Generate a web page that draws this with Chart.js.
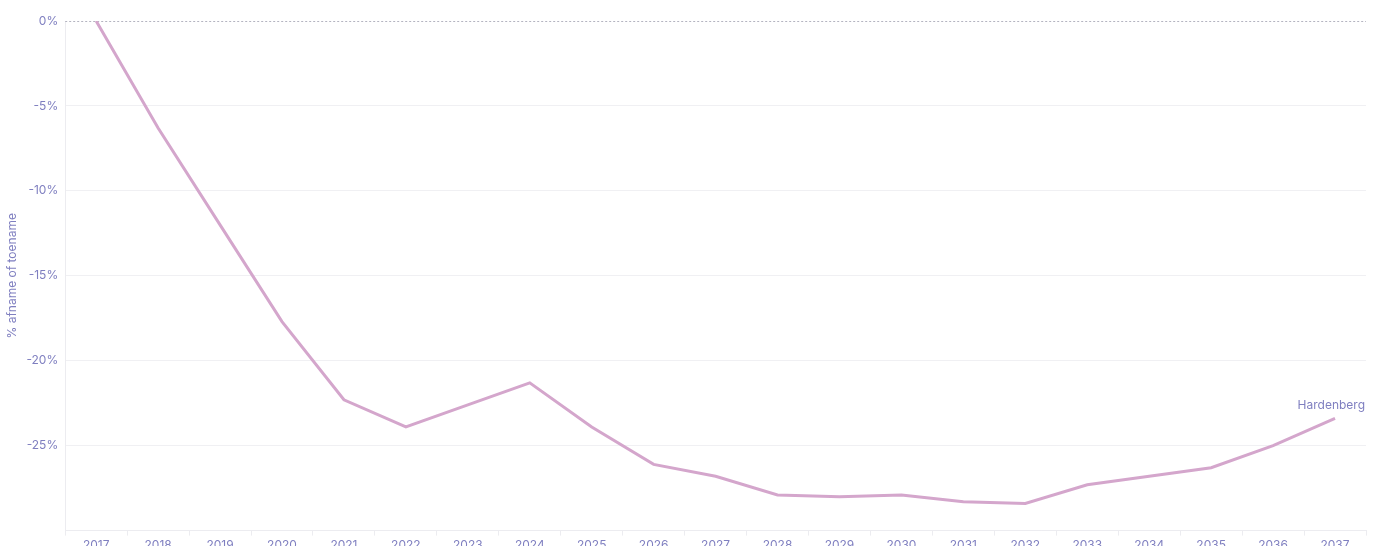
<!DOCTYPE html>
<html>
<head>
<meta charset="utf-8">
<script src="https://cdn.jsdelivr.net/npm/chart.js@4.4.1/dist/chart.umd.min.js"></script>
<style>
  html, body { margin: 0; padding: 0; background: #fff; overflow: hidden; }
  #wrap { position: relative; width: 1380px; height: 556px; }
</style>
</head>
<body>
<div id="wrap"><canvas id="chart"></canvas></div>
<script>
"use strict";

// ─── Data ──────────────────────────────────────────────────────────────────
const years = ["2017", "2018", "2019", "2020", "2021", "2022", "2023", "2024", "2025", "2026", "2027",
               "2028", "2029", "2030", "2031", "2032", "2033", "2034", "2035", "2036", "2037"];
const hardenberg = [0, -6.3, -12.0, -17.7, -22.3, -23.9, -22.6, -21.3, -23.9, -26.1, -26.8,
                    -27.9, -28.0, -27.9, -28.3, -28.4, -27.3, -26.8, -26.3, -25.0, -23.4];
const seriesName = "Hardenberg";
const yTitle     = "% afname of toename";

// ─── Styling ───────────────────────────────────────────────────────────────
const TEXT  = "#7f7fc0";
const LINE  = "#d4a6cc";
const GRID  = "#f0f0f3";

Chart.defaults.font.family = "Inter, 'Open Sans', sans-serif";
Chart.defaults.font.size   = 12;
Chart.defaults.color       = TEXT;

// zero reference line + end label
const extras = {
  id: "extras",
  beforeDatasetsDraw(chart) {
    const { ctx, chartArea, scales } = chart;
    const y0 = Math.round(scales.y.getPixelForValue(0)) + 0.5;
    ctx.save();
    ctx.strokeStyle = "#b4b4c0";
    ctx.lineWidth = 1;
    ctx.setLineDash([2, 2]);
    ctx.beginPath();
    ctx.moveTo(chartArea.left, y0);
    ctx.lineTo(chartArea.right, y0);
    ctx.stroke();
    ctx.restore();
  },
  afterDatasetsDraw(chart) {
    const { ctx, chartArea } = chart;
    const pts = chart.getDatasetMeta(0).data;
    const last = pts[pts.length - 1];
    ctx.save();
    ctx.fillStyle = TEXT;
    ctx.font = "12px Inter, 'Open Sans', sans-serif";
    ctx.textAlign = "right";
    ctx.textBaseline = "bottom";
    ctx.fillText(seriesName, chartArea.right - 1, last.y - 7);
    ctx.restore();
  },
};

new Chart(document.getElementById("chart"), {
  type: "line",
  data: {
    labels: years,
    datasets: [{
      label: seriesName,
      data: hardenberg,
      borderColor: LINE,
      borderWidth: 3,
      pointRadius: 0,
      tension: 0,
      fill: false,
    }],
  },
  options: {
    responsive: true,
    maintainAspectRatio: false,
    animation: false,
    layout: { padding: { top: 21, right: 14, bottom: 0, left: 5 } },
    plugins: { legend: { display: false }, tooltip: { enabled: false } },
    scales: {
      x: {
        offset: true,
        grid: { offset: true, drawOnChartArea: false, drawTicks: true, tickLength: 5, color: "#ececf0" },
        border: { color: "#ececf0" },
        ticks: { color: TEXT, padding: 3, maxRotation: 0, autoSkip: false },
      },
      y: {
        min: -30,
        max: 0,
        grid: {
          drawTicks: false,
          color: ctx => (ctx.tick && ctx.tick.value === 0 ? "rgba(0,0,0,0)" : GRID),
        },
        border: { color: "#ececf0" },
        ticks: {
          stepSize: 5,
          padding: 7,
          color: TEXT,
          callback: v => (v === -30 ? "" : v + "%"),
        },
        title: { display: true, text: yTitle, color: TEXT, font: { size: 12 }, padding: { top: 0, bottom: 0 } },
      },
    },
  },
  plugins: [extras],
});
</script>
</body>
</html>
